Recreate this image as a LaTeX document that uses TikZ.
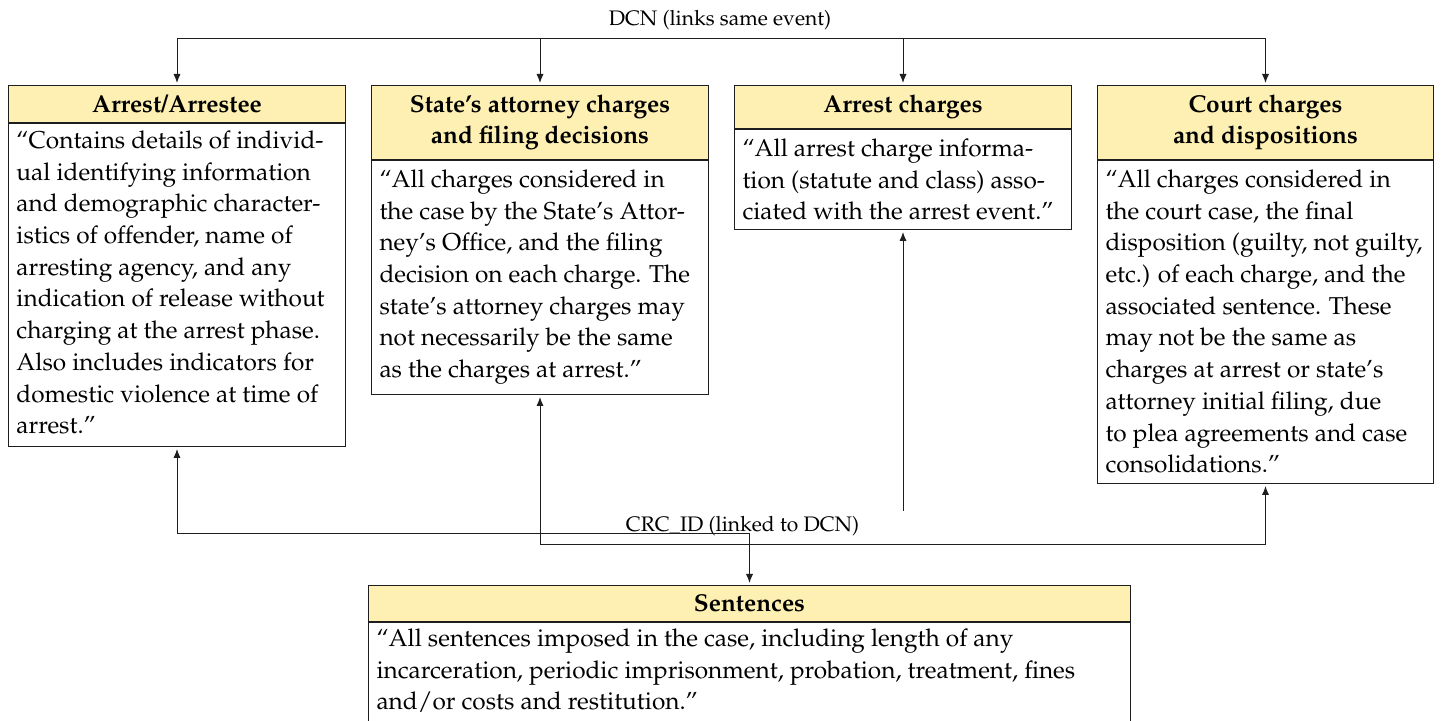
\documentclass[tikz,border=0pt]{standalone}
\usepackage[T1]{fontenc}
\usepackage{mathpazo}
\usetikzlibrary{arrows.meta,calc}
\definecolor{hdryellow}{RGB}{253,240,178}
\definecolor{linecol}{RGB}{30,30,30}
\newcommand\bodypar[4]{\parbox[t][#2][t]{#1}{\fontsize{12.2}{15.85}\selectfont\raggedright\leftskip=4pt\relax\rule{0pt}{#3}#4}}
\tikzset{
  hdr/.style={draw=linecol, fill=hdryellow, line width=0.5pt, inner sep=0pt,
    font=\fontsize{12.2}{15.5}\selectfont\bfseries, align=center, anchor=north west},
  bodybox/.style={draw=linecol, line width=0.5pt, inner sep=0pt, anchor=north west},
  lbl/.style={font=\fontsize{10.5}{12}\selectfont, inner sep=0pt, anchor=base},
  conn/.style={draw=linecol, line width=0.5pt},
  arr/.style={conn, -{Latex[length=4.5pt,width=3.6pt]}, shorten >=1pt},
  arrboth/.style={conn, {Latex[length=4.5pt,width=3.6pt]}-{Latex[length=4.5pt,width=3.6pt]}, shorten >=1pt, shorten <=1pt}
}
\begin{document}
\begin{tikzpicture}[x=0.5pt,y=-0.5pt]
\useasboundingbox (0,0) rectangle (1442,721);

% Box 1
\node[hdr, minimum width=168.5pt, minimum height=18.5pt] (h1) at (8,85) {Arrest/Arrestee};
\node[bodybox] (b1) at (h1.south west) {\bodypar{168.5pt}{161.5pt}{12.5pt}{``Contains details of individ-\\ual identifying information\\and demographic character-\\istics of offender, name of\\arresting agency, and any\\indication of release without\\charging at the arrest phase.\\Also includes indicators for\\domestic violence at time of\\arrest.''}};

% Box 2
\node[hdr, minimum width=168.5pt, minimum height=37pt] (h2) at (371,85) {State's attorney charges\\and filing decisions};
\node[bodybox] (b2) at (h2.south west) {\bodypar{168.5pt}{117pt}{13.5pt}{``All charges considered in\\the case by the State's Attor-\\ney's Office, and the filing\\decision on each charge. The\\state's attorney charges may\\not necessarily be the same\\as the charges at arrest.''}};

% Box 3
\node[hdr, minimum width=168.5pt, minimum height=21.5pt] (h3) at (734,85) {Arrest charges};
\node[bodybox] (b3) at (h3.south west) {\bodypar{168.5pt}{50pt}{13.5pt}{``All arrest charge informa-\\tion (statute and class) asso-\\ciated with the arrest event.''}};

% Box 4
\node[hdr, minimum width=168pt, minimum height=37pt] (h4) at (1097,85) {Court charges\\and dispositions};
\node[bodybox] (b4) at (h4.south west) {\bodypar{168pt}{161.5pt}{13.5pt}{``All charges considered in\\the court case, the final\\disposition (guilty, not guilty,\\etc.) of each charge, and the\\associated sentence. These\\may not be the same as\\charges at arrest or state's\\attorney initial filing, due\\to plea agreements and case\\consolidations.''}};

% Sentences
\node[hdr, minimum width=381pt, minimum height=18pt] (hs) at (368,585) {Sentences};
\node[bodybox] (bs) at (hs.south west) {\bodypar{381pt}{49.5pt}{12pt}{``All sentences imposed in the case, including length of any\\incarceration, periodic imprisonment, probation, treatment, fines\\and/or costs and restitution.''}};

% DCN links
\coordinate (bus) at (0,39);
\node[lbl] (dcn) at (720,26) {DCN (links same event)};
\draw[conn] (h1.north |- bus) -- (h4.north |- bus);
\foreach \n in {h1,h2,h3,h4} \draw[arr] (\n.north |- bus) -- (\n.north);

% CRC_ID links
\coordinate (yA) at (0,534);
\coordinate (yB) at (0,545);
\coordinate (yC) at (0,511);
\node[lbl] (crc) at (742.5,532) {CRC\_ID (linked to DCN)};
\draw[arrboth] (b1.south) |- (hs.north |- yA) -- (hs.north);
\draw[arrboth] (b2.south) |- (b4.south |- yB) -- (b4.south);
\draw[arr] (b3.south |- yC) -- (b3.south);
\end{tikzpicture}
\end{document}
